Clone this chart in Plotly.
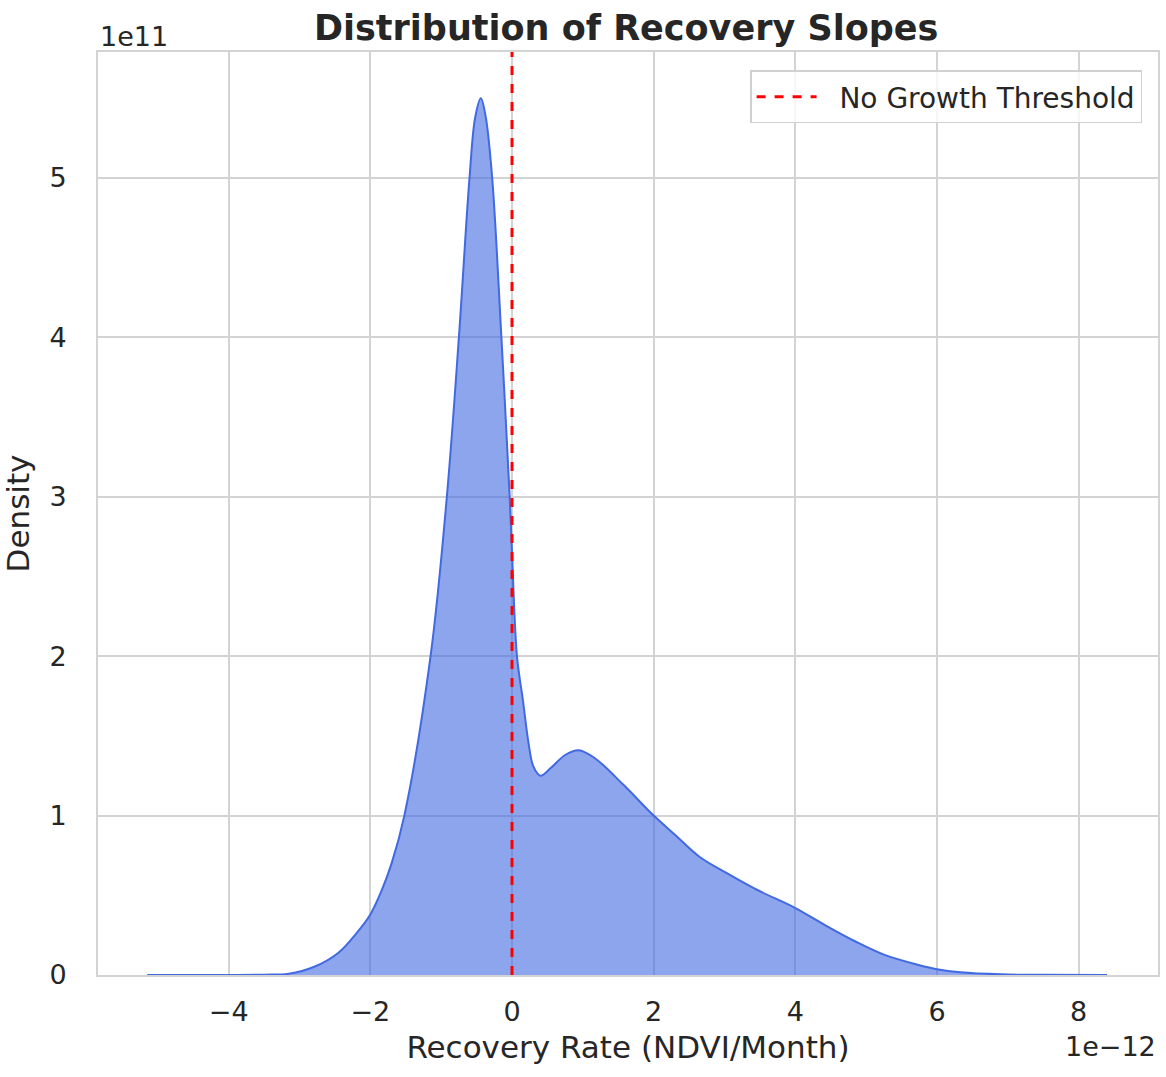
import plotly.graph_objects as go

# Recovery rate (units of 1e-12 NDVI/Month) and density (units of 1e11)
rate = [-5.15, -4.5, -4.0, -3.5, -3.15, -2.8, -2.45, -2.2, -2.0, -1.85, -1.70, -1.52,
        -1.15, -0.92, -0.75, -0.60, -0.52, -0.44, -0.37, -0.28, -0.15, -0.033, 0.0,
        0.07, 0.155, 0.235, 0.30, 0.40, 0.55, 0.75, 0.94, 1.17, 1.58, 2.0, 2.3, 2.65,
        3.07, 3.48, 4.0, 4.43, 4.85, 5.26, 5.74, 6.0, 6.33, 6.9, 7.5, 8.4]
density = [0.0, 0.0, 0.0005, 0.002, 0.008, 0.05, 0.14, 0.26, 0.38, 0.52, 0.70, 1.0,
           2.0, 3.0, 4.0, 5.0, 5.38, 5.50, 5.38, 5.0, 4.0, 3.0, 2.65,
           2.0, 1.72, 1.45, 1.31, 1.25, 1.30, 1.38, 1.41, 1.36, 1.19, 1.0, 0.88, 0.74,
           0.63, 0.53, 0.42, 0.31, 0.21, 0.126, 0.063, 0.036, 0.017, 0.004, 0.001, 0.0]
threshold = 0.0
x_ticks = [-4, -2, 0, 2, 4, 6, 8]
x_tick_labels = ["\u22124", "\u22122", "0", "2", "4", "6", "8"]
y_ticks = [0, 1, 2, 3, 4, 5]
x_range = [-5.845, 9.12]
y_range = [0, 5.79]

FONT = "DejaVu Sans"
TXT = "#262626"
GRID = "#d3d3d3"

fig = go.Figure()
fig.add_trace(go.Scatter(
    x=rate, y=density, mode="lines", line=dict(color="royalblue", width=2, shape="spline", smoothing=1.0),
    fill="tozeroy", fillcolor="rgba(65,105,225,0.6)", showlegend=False, hoverinfo="skip"))
fig.add_trace(go.Scatter(
    x=[threshold, threshold], y=y_range, mode="lines",
    line=dict(color="red", width=3, dash="dash"), name="\u00a0\u00a0No Growth Threshold"))

fig.update_layout(
    width=1166, height=1077,
    margin=dict(l=98, r=8, t=52, b=102),
    paper_bgcolor="white", plot_bgcolor="white",
    font=dict(family=FONT, color=TXT, size=27),
    title=dict(text="<b>Distribution of Recovery Slopes</b>", x=0.537, xanchor="center",
               y=0.974, yanchor="middle", font=dict(size=35, color=TXT)),
    showlegend=True,
    legend=dict(x=0.985, y=0.98, xanchor="right", yanchor="top", itemwidth=60,
                bgcolor="rgba(255,255,255,0.8)", bordercolor="#d0d0d0", borderwidth=1.5,
                font=dict(size=28, color=TXT)),
    xaxis=dict(range=x_range, tickvals=x_ticks, ticktext=x_tick_labels,
               showgrid=True, gridcolor=GRID, gridwidth=1.5, zeroline=False,
               showline=True, linecolor=GRID, linewidth=2, mirror=True,
               ticks="", ticklabelstandoff=12, automargin=False,
               title=dict(text="Recovery Rate (NDVI/Month)", font=dict(size=31), standoff=10)),
    yaxis=dict(range=y_range, tickvals=y_ticks,
               showgrid=True, gridcolor=GRID, gridwidth=1.5, zeroline=False,
               showline=True, linecolor=GRID, linewidth=2, mirror=True,
               ticks="", ticklabelstandoff=24, automargin=False,
               title=dict(text="Density", font=dict(size=31), standoff=14)),
    annotations=[
        dict(text="1e11", xref="paper", yref="paper", x=0.0, y=1.0, xanchor="left",
             yanchor="bottom", yshift=-2, showarrow=False, font=dict(size=27, color=TXT)),
        dict(text="1e\u221212", xref="paper", yref="paper", x=1.0, y=-0.058, xanchor="right",
             yanchor="top", showarrow=False, font=dict(size=27, color=TXT)),
    ],
)
fig.write_html("out.html", config={"displayModeBar": False},
               post_script="document.body.style.margin='0';")
